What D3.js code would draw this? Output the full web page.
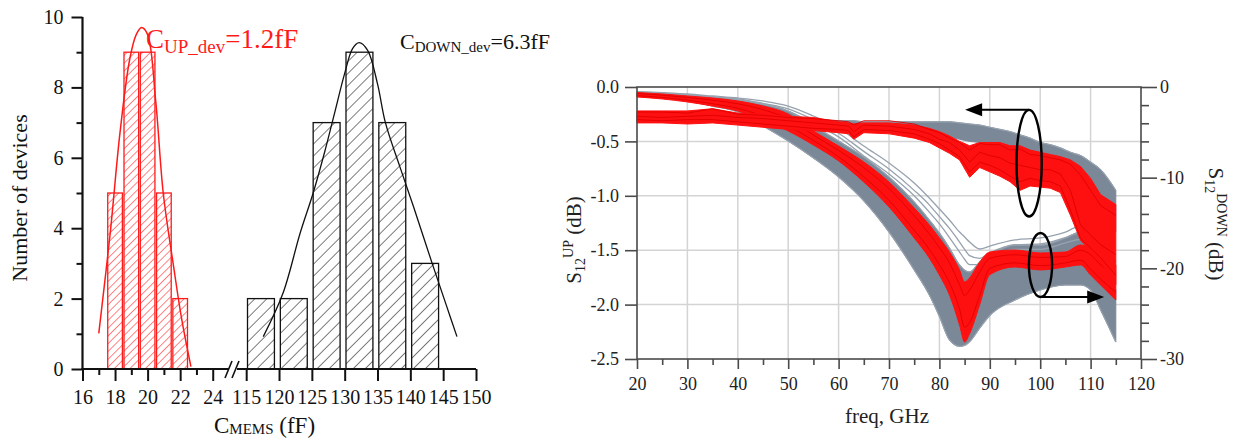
<!DOCTYPE html>
<html><head><meta charset="utf-8">
<script src="https://d3js.org/d3.v7.min.js"></script>
<style>
body{margin:0;background:#fff}
svg{display:block}
text{font-family:"Liberation Serif","Times New Roman",serif}
</style>
</head><body>
<svg id="c" width="1240" height="439"></svg>
<script>
// ================= Histogram data (left panel) =================
const upBinLo   = [17.55, 18.55, 19.55, 20.55, 21.55];
const upBinHi   = [18.45, 19.45, 20.45, 21.45, 22.45];
const upCounts  = [5, 9, 9, 5, 2];
const downBinLo = [115.2, 120.2, 125.2, 130.2, 135.2, 140.2];
const downBinHi = [119.3, 124.3, 129.3, 134.3, 139.3, 144.3];
const downCounts= [2, 2, 7, 9, 7, 3];
const upFitX   = [17.0, 17.7, 18.3, 18.9, 19.3, 19.63, 20.0, 20.5, 20.96, 21.6, 22.1, 22.66];
const upFitY   = [1.01, 3.85, 6.7, 8.8, 9.5, 9.7, 9.5, 7.6, 5.0, 2.9, 1.4, 0.07];
const downFitX = [117.6,120.6,123.2,125.2,127,128.5,130,131.2,132.2,133.5,135,136.2,138.4,140.5,143.5,145.5,147.1];
const downFitY = [0.92,2.15,3.85,5.0,6.2,7.3,8.4,9.1,9.27,9.05,8.1,7.0,5.75,4.6,2.9,1.8,0.92];
const histXMajorLow  = [16, 18, 20, 22, 24];
const histXMinorLow  = [17, 19, 21, 23];
const histXMajorHigh = [115, 120, 125, 130, 135, 140, 145, 150];
const histYMajor = [0, 2, 4, 6, 8, 10];
const histYMinor = [1, 3, 5, 7, 9];

// ================= S12 data (right panel) =================
// DOWN family (right axis, dB)
const freqDown = [20,25,30,35,40,45,50,55,60,65,70,75,78,80,82,84,85,86,88,90,95,100,105,108,110,112,115];
const downGrayHi = [-0.55,-0.66,-0.88,-1.10,-1.43,-1.88,-2.65,-4.30,-5.96,-7.72,-9.93,-12.68,-14.67,-16.10,-17.76,-19.63,-20.2,-20.40,-19.30,-18.53,-17.43,-17.43,-16.65,-16.0,-16.65,-18.53,-22.39];
const downGrayLo = [-0.99,-1.21,-1.54,-2.10,-2.76,-4.30,-5.96,-7.83,-9.93,-12.57,-16.0,-20.18,-22.94,-25.3,-27.9,-28.6,-28.5,-28.1,-26.6,-25.2,-23.49,-22.39,-21.84,-21.84,-22.39,-24.60,-28.13];
const downGrayOut1 = [-0.55,-0.61,-0.77,-0.99,-1.21,-1.54,-2.10,-3.20,-4.52,-6.51,-8.38,-10.59,-12.24,-13.45,-14.67,-16.0,-16.54,-17.1,-17.87,-17.54,-16.87,-16.65,-16.0,-15.33,-15.55,-16.87,-19.3];
const downGrayOut2 = [-0.6,-0.7,-0.9,-1.1,-1.3,-1.8,-2.4,-3.6,-5.1,-7.1,-9.05,-11.4,-13.0,-14.3,-15.6,-17.1,-17.9,-18.6,-18.9,-18.3,-17.4,-17.3,-16.6,-16.1,-16.4,-17.9,-20.5];
const downGrayOut3 = [-0.6,-0.7,-0.95,-1.2,-1.45,-1.9,-2.65,-4.0,-5.5,-7.6,-9.6,-12.0,-13.8,-15.1,-16.6,-18.2,-19.0,-19.6,-19.6,-18.9,-17.9,-17.9,-17.2,-16.8,-17.4,-19.5,-22.6];
const downRedHi = [-0.61,-0.77,-0.99,-1.21,-1.54,-2.10,-2.98,-4.85,-6.51,-8.27,-10.48,-13.35,-15.22,-16.65,-18.20,-20.18,-21.5,-21.06,-19.30,-18.20,-17.98,-18.31,-18.20,-17.43,-17.76,-18.86,-19.63];
const downRedLo = [-1.10,-1.32,-1.65,-2.10,-2.65,-3.64,-4.85,-6.40,-8.16,-10.48,-13.23,-16.65,-18.86,-20.74,-22.94,-26.25,-28.13,-27.2,-24.0,-20.7,-19.85,-20.18,-19.85,-19.63,-20.74,-21.84,-23.49];
const downRed1 = [-0.7,-0.9,-1.15,-1.45,-1.85,-2.5,-3.5,-5.3,-7.0,-8.9,-11.2,-14.2,-16.2,-17.7,-19.4,-21.8,-23.0,-22.4,-20.4,-18.9,-18.5,-18.8,-18.7,-18.0,-18.5,-19.6,-20.6];
const downRed2 = [-0.95,-1.15,-1.45,-1.85,-2.35,-3.2,-4.3,-5.9,-7.7,-9.9,-12.5,-15.8,-17.9,-19.6,-21.6,-24.5,-26.5,-26.0,-23.0,-20.0,-19.4,-19.7,-19.4,-19.1,-20.1,-21.2,-22.6];

// UP family (left axis, dB)
const freqUp = [20,25,30,35,40,45,50,55,60,62,63,65,70,75,78,80,82,84,86,88,90,92,94,96,98,100,102,104,106,108,110,112,115];
const upGrayHi = [-0.25,-0.25,-0.26,-0.27,-0.28,-0.29,-0.29,-0.30,-0.31,-0.31,-0.31,-0.32,-0.32,-0.32,-0.32,-0.32,-0.32,-0.33,-0.34,-0.35,-0.37,-0.39,-0.41,-0.44,-0.47,-0.51,-0.53,-0.56,-0.60,-0.63,-0.69,-0.76,-0.95];
const upGrayLo = [-0.31,-0.31,-0.32,-0.32,-0.33,-0.34,-0.35,-0.36,-0.37,-0.37,-0.37,-0.38,-0.38,-0.40,-0.42,-0.44,-0.46,-0.48,-0.50,-0.51,-0.54,-0.58,-0.62,-0.67,-0.73,-0.78,-0.84,-0.89,-0.95,-1.08,-1.18,-1.24,-1.33];
const upRedHi = [-0.22,-0.22,-0.22,-0.20,-0.24,-0.25,-0.27,-0.28,-0.32,-0.33,-0.34,-0.33,-0.33,-0.35,-0.38,-0.41,-0.45,-0.50,-0.54,-0.51,-0.51,-0.51,-0.54,-0.54,-0.58,-0.60,-0.62,-0.64,-0.67,-0.73,-0.84,-0.99,-1.08];
const upRedLo = [-0.33,-0.33,-0.34,-0.33,-0.35,-0.37,-0.39,-0.40,-0.42,-0.43,-0.48,-0.42,-0.43,-0.47,-0.51,-0.56,-0.61,-0.67,-0.83,-0.74,-0.78,-0.82,-0.87,-0.95,-0.91,-0.92,-0.93,-0.97,-1.18,-1.41,-1.50,-1.61,-1.82];
const upRed1 = [-0.23,-0.23,-0.24,-0.20,-0.25,-0.26,-0.28,-0.29,-0.31,-0.32,-0.35,-0.31,-0.31,-0.34,-0.39,-0.42,-0.47,-0.51,-0.58,-0.52,-0.53,-0.53,-0.58,-0.57,-0.62,-0.63,-0.65,-0.67,-0.71,-0.81,-0.95,-1.09,-1.18];
const upRed2 = [-0.27,-0.28,-0.27,-0.26,-0.28,-0.29,-0.31,-0.33,-0.35,-0.36,-0.41,-0.35,-0.36,-0.39,-0.43,-0.48,-0.51,-0.58,-0.69,-0.60,-0.63,-0.65,-0.70,-0.72,-0.74,-0.76,-0.76,-0.80,-0.95,-1.27,-1.36,-1.45,-1.54];
const upRed3 = [-0.30,-0.31,-0.30,-0.30,-0.32,-0.34,-0.36,-0.38,-0.39,-0.40,-0.46,-0.39,-0.40,-0.43,-0.48,-0.52,-0.58,-0.64,-0.78,-0.69,-0.72,-0.76,-0.82,-0.87,-0.84,-0.86,-0.87,-0.91,-1.13,-1.39,-1.48,-1.57,-1.73];

const freqMajor = [20,30,40,50,60,70,80,90,100,110,120];
const freqMinor = [25,35,45,55,65,75,85,95,105,115];
const upTicks   = [0,-0.5,-1.0,-1.5,-2.0,-2.5];
const upGrid    = [-0.5,-1.0,-1.5,-2.0];
const freqGrid  = [30,40,50,60,70,80,90,100,110];
const downMajor = [0,-10,-20,-30];
const downMinor = [-2,-4,-6,-8,-12,-14,-16,-18,-22,-24,-26,-28];

// ================= Drawing =================
const svg = d3.select("#c");
svg.append("rect").attr("width",1240).attr("height",439).attr("fill","#fff");
const defs = svg.append("defs");
function hatch(id, color, gap, w){
  const p = defs.append("pattern").attr("id",id).attr("patternUnits","userSpaceOnUse")
    .attr("width",gap).attr("height",gap).attr("patternTransform","rotate(45)");
  p.append("line").attr("x1",0).attr("y1",0).attr("x2",0).attr("y2",gap)
    .attr("stroke",color).attr("stroke-width",w);
}
hatch("hr","#ff2020",5.5,1.1);
hatch("hb","#111",8.5,1.1);

// ---------- Left panel ----------
const xH = d3.scaleLinear().domain([16,25,113.6,150]).range([82.5,229,237,476]);
const yH = d3.scaleLinear().domain([0,10]).range([369,17]);
const gL = svg.append("g");

gL.selectAll("rect.up").data(upCounts).join("rect")
  .attr("x",(d,i)=>xH(upBinLo[i])).attr("width",(d,i)=>xH(upBinHi[i])-xH(upBinLo[i]))
  .attr("y",d=>yH(d)).attr("height",d=>yH(0)-yH(d))
  .attr("fill","url(#hr)").attr("stroke","#ff1a1a").attr("stroke-width",1.3);
gL.selectAll("rect.dn").data(downCounts).join("rect")
  .attr("x",(d,i)=>xH(downBinLo[i])).attr("width",(d,i)=>xH(downBinHi[i])-xH(downBinLo[i]))
  .attr("y",d=>yH(d)).attr("height",d=>yH(0)-yH(d))
  .attr("fill","url(#hb)").attr("stroke","#111").attr("stroke-width",1.3);

const fitLine = d3.line().x(d=>xH(d[0])).y(d=>yH(d[1])).curve(d3.curveCatmullRom);
gL.append("path").attr("d",fitLine(d3.zip(upFitX,upFitY))).attr("fill","none").attr("stroke","#ff1a1a").attr("stroke-width",1.5);
gL.append("path").attr("d",fitLine(d3.zip(downFitX,downFitY))).attr("fill","none").attr("stroke","#111").attr("stroke-width",1.3);

gL.append("g").attr("transform",`translate(${xH(16)},0)`)
  .call(d3.axisLeft(yH).tickValues(histYMajor).tickSize(11).tickPadding(8).tickFormat(d3.format("d")));
gL.append("g").attr("transform",`translate(${xH(16)},0)`)
  .call(d3.axisLeft(yH).tickValues(histYMinor).tickSize(6).tickFormat(""));
const xAx = gL.append("g").attr("transform",`translate(0,${yH(0)})`);
xAx.append("g").call(d3.axisBottom(xH).tickValues(histXMajorLow.concat(histXMajorHigh)).tickSize(12).tickPadding(9).tickFormat(d3.format("d")));
xAx.append("g").call(d3.axisBottom(xH).tickValues(histXMinorLow).tickSize(6).tickFormat(""));
gL.selectAll(".domain").remove();
gL.selectAll(".tick line").attr("stroke","#111").attr("stroke-width",2);
gL.selectAll(".tick text").attr("font-size",20).attr("fill","#111").style("font-family","Liberation Serif");
gL.append("line").attr("x1",xH(16)).attr("x2",xH(16)).attr("y1",yH(10)).attr("y2",yH(0)).attr("stroke","#111").attr("stroke-width",2.2);
gL.append("line").attr("x1",xH(16)-1).attr("x2",xH(25)).attr("y1",yH(0)).attr("y2",yH(0)).attr("stroke","#111").attr("stroke-width",2.2);
gL.append("line").attr("x1",xH(113.6)).attr("x2",xH(150)).attr("y1",yH(0)).attr("y2",yH(0)).attr("stroke","#111").attr("stroke-width",2.2);
[xH(25)-1, xH(113.6)-2].forEach(bx=>{
  gL.append("line").attr("x1",bx-3).attr("y1",yH(0)+9).attr("x2",bx+4).attr("y2",yH(0)-8)
    .attr("stroke","#111").attr("stroke-width",1.6);
});
gL.append("text").attr("transform","translate(27,198) rotate(-90)").attr("text-anchor","middle")
  .attr("font-size",22).attr("fill","#111").text("Number of devices");
const xt = gL.append("text").attr("x",214).attr("y",433).attr("font-size",23).attr("fill","#111");
xt.append("tspan").text("C");
xt.append("tspan").attr("font-size",15).attr("dy",1).text("MEMS");
xt.append("tspan").attr("dy",-1).text(" (fF)");
const ra = gL.append("text").attr("x",146).attr("y",48).attr("font-size",27).attr("fill","#ff1a1a");
ra.append("tspan").text("C");
ra.append("tspan").attr("font-size",19).attr("dy",5).text("UP_dev");
ra.append("tspan").attr("dy",-5).text("=1.2fF");
const ba = gL.append("text").attr("x",400).attr("y",49).attr("font-size",22).attr("fill","#111");
ba.append("tspan").text("C");
ba.append("tspan").attr("font-size",15).attr("dy",3).text("DOWN_dev");
ba.append("tspan").attr("dy",-3).text("=6.3fF");

// ---------- Right panel ----------
const xF = d3.scaleLinear().domain([20,120]).range([637,1141]);
const yUp = d3.scaleLinear().domain([0,-2.5]).range([87,359]);
const yDn = d3.scaleLinear().domain([0,-30]).range([87,359]);
const gR = svg.append("g");

gR.selectAll("line.gx").data(freqGrid).join("line")
  .attr("x1",d=>xF(d)).attr("x2",d=>xF(d)).attr("y1",yUp(0)).attr("y2",yUp(-2.5))
  .attr("stroke","#d4d4d4").attr("stroke-width",1.5);
gR.selectAll("line.gy").data(upGrid).join("line")
  .attr("x1",xF(20)).attr("x2",xF(120)).attr("y1",d=>yUp(d)).attr("y2",d=>yUp(d))
  .attr("stroke","#d4d4d4").attr("stroke-width",1.5);

const GRAY = "#7b8897", GRAYL = "#97a2af", RED = "#ff1010";
function band(freq, hi, lo, ys, fill, curve){
  const a = d3.area().x((d,i)=>xF(freq[i])).y0((d,i)=>ys(lo[i])).y1((d,i)=>ys(hi[i])).curve(curve);
  gR.append("path").attr("d",a(freq)).attr("fill",fill).attr("stroke",fill).attr("stroke-width",1);
}
function curveLine(freq, vals, ys, color, w, curve){
  const l = d3.line().x((d,i)=>xF(freq[i])).y(d=>ys(d)).curve(curve);
  gR.append("path").attr("d",l(vals)).attr("fill","none").attr("stroke",color).attr("stroke-width",w);
}
const smooth = d3.curveMonotoneX, jag = d3.curveLinear;

band(freqDown, downGrayHi, downGrayLo, yDn, GRAY, smooth);
[downGrayOut1, downGrayOut2, downGrayOut3].forEach(v=>curveLine(freqDown, v, yDn, GRAYL, 1.3, smooth));
curveLine(freqDown, downGrayHi, yDn, GRAYL, 1.2, smooth);
curveLine(freqDown, downGrayLo, yDn, GRAYL, 1.2, smooth);
band(freqUp, upGrayHi, upGrayLo, yUp, GRAY, smooth);
curveLine(freqUp, upGrayHi, yUp, GRAYL, 1.2, smooth);
band(freqDown, downRedHi, downRedLo, yDn, RED, smooth);
[downRed1, downRed2].forEach(v=>curveLine(freqDown, v, yDn, "#e00000", 0.9, smooth));
band(freqUp, upRedHi, upRedLo, yUp, RED, jag);
[upRed1, upRed2, upRed3].forEach(v=>curveLine(freqUp, v, yUp, "#e00000", 0.9, jag));

const ell = [{f:97.8, v:-0.70, df:2.5, dv:0.49}, {f:100.06, v:-1.636, df:2.3, dv:0.294}];
ell.forEach(e=>{
  gR.append("ellipse").attr("cx",xF(e.f)).attr("cy",yUp(e.v))
    .attr("rx",xF(e.f+e.df)-xF(e.f)).attr("ry",yUp(e.v-e.dv)-yUp(e.v))
    .attr("fill","none").attr("stroke","#000").attr("stroke-width",2.4);
});
function arrow(f0, f1, v){
  const y = yUp(v), x0 = xF(f0), x1 = xF(f1), dir = Math.sign(x1-x0);
  gR.append("line").attr("x1",x0).attr("x2",x1-dir*15).attr("y1",y).attr("y2",y).attr("stroke","#000").attr("stroke-width",2);
  gR.append("path").attr("d",`M${x1},${y} L${x1-dir*17},${y-6.5} L${x1-dir*17},${y+6.5} Z`).attr("fill","#000");
}
arrow(ell[0].f, 85.1, ell[0].v+ell[0].dv);
arrow(ell[1].f, 112.7, ell[1].v-ell[1].dv);

gR.append("rect").attr("x",xF(20)).attr("y",yUp(0)).attr("width",xF(120)-xF(20)).attr("height",yUp(-2.5)-yUp(0))
  .attr("fill","none").attr("stroke","#4a4a4a").attr("stroke-width",1.6);

gR.append("g").attr("transform",`translate(${xF(20)},0)`)
  .call(d3.axisLeft(yUp).tickValues(upTicks).tickSize(12).tickPadding(6).tickFormat(d=>d.toFixed(1)));
gR.append("g").attr("transform",`translate(0,${yUp(-2.5)})`)
  .call(d3.axisBottom(xF).tickValues(freqMajor).tickSize(10).tickPadding(8).tickFormat(d3.format("d")));
gR.append("g").attr("transform",`translate(0,${yUp(-2.5)})`)
  .call(d3.axisBottom(xF).tickValues(freqMinor).tickSize(6).tickFormat(""));
gR.append("g").attr("transform",`translate(${xF(120)},0)`)
  .call(d3.axisRight(yDn).tickValues(downMajor).tickSize(16).tickPadding(3).tickFormat(d=>String(d)));
gR.append("g").attr("transform",`translate(${xF(120)},0)`)
  .call(d3.axisRight(yDn).tickValues(downMinor).tickSize(8).tickFormat(""));
gR.selectAll(".domain").remove();
gR.selectAll(".tick line").attr("stroke","#4a4a4a").attr("stroke-width",1.6);
gR.selectAll(".tick text").attr("font-size",18).attr("fill","#222").style("font-family","Liberation Serif");

gR.append("text").attr("x",887).attr("y",423).attr("text-anchor","middle").attr("font-size",21).attr("fill","#222").text("freq, GHz");
const lt = gR.append("text").attr("transform","translate(581,240) rotate(-90)").attr("text-anchor","middle").attr("font-size",21).attr("fill","#222");
lt.append("tspan").text("S");
lt.append("tspan").attr("font-size",14).attr("dy",4).text("12");
lt.append("tspan").attr("font-size",14).attr("dy",-12).text("UP");
lt.append("tspan").attr("dy",8).text(" (dB)");
const rt = gR.append("text").attr("transform","translate(1209,224) rotate(90)").attr("text-anchor","middle").attr("font-size",21).attr("fill","#222");
rt.append("tspan").text("S");
rt.append("tspan").attr("font-size",14).attr("dy",4).text("12");
rt.append("tspan").attr("font-size",14).attr("dy",-12).text("DOWN");
rt.append("tspan").attr("dy",8).text(" (dB)");
</script>
</body></html>
